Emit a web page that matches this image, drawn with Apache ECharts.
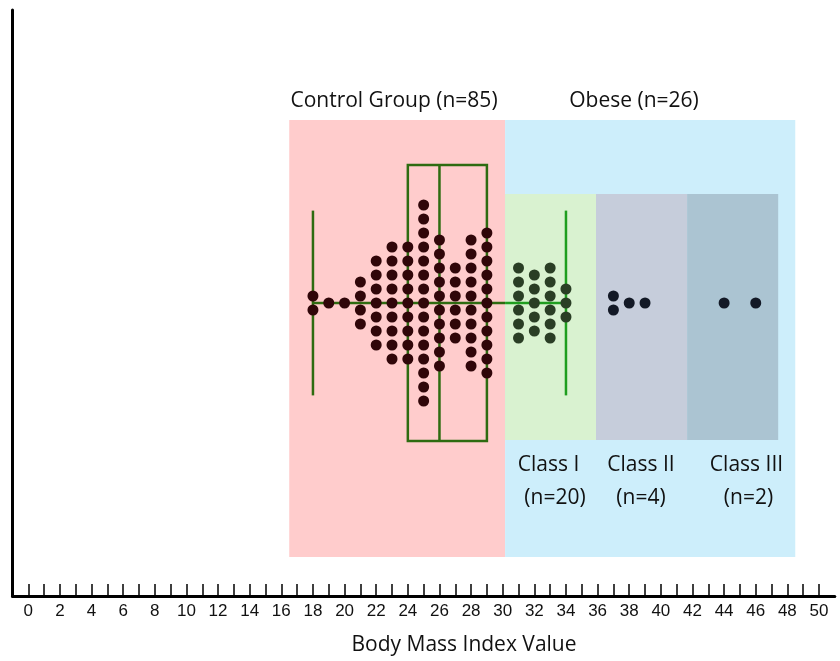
<!DOCTYPE html>
<html><head><meta charset="utf-8">
<script src="https://cdn.jsdelivr.net/npm/echarts@6/dist/echarts.min.js"></script>
<style>html,body{margin:0;padding:0;background:#fff}#c{width:840px;height:661px}</style>
</head><body><div id="c"></div>
<script>
// ---- data ----
const controlBMI    = [18,19,20,21,22,23,24,25,26,27,28,29];
const controlCounts = [2,1,1,4,7,9,9,15,10,6,10,11];
const class1BMI     = [31,32,33,34];
const class1Counts  = [6,5,6,3];
const class2BMI     = [37,38,39];
const class2Counts  = [2,1,1];
const class3BMI     = [44,46];
const class3Counts  = [1,1];
const boxStats      = [18,24,26,29,34];           // min, Q1, median, Q3, max
const groupRanges   = [[16.5,30.15],[30.15,48.5]]; // Control, Obese
const classRanges   = [[30.15,35.9],[35.9,41.66],[41.66,47.42]]; // Class I, II, III
const tickValues    = [0,1,2,3,4,5,6,7,8,9,10,11,12,13,14,15,16,17,18,19,20,21,22,23,24,25,26,27,28,29,30,31,32,33,34,35,36,37,38,39,40,41,42,43,44,45,46,47,48,49,50];
const labelValues   = [0,2,4,6,8,10,12,14,16,18,20,22,24,26,28,30,32,34,36,38,40,42,44,46,48,50];

// ---- layout ----
const Y_HALF = 20.93;          // y axis in "dot rows", 0 = centre line
const GROUP_Y = [-18.14, 13.07];
const CLASS_Y = [-9.79, 7.79];
const BOX_H = 9.86, WHISK_H = 6.6;

function swarm(bmis, counts){
  const out = [];
  bmis.forEach((b,k)=>{ const n = counts[k]; for(let i=0;i<n;i++) out.push([b, (n-1)/2 - i]); });
  return out;
}

const bgColors = ['#ffcccc','#cdeefb','#d9f2d0','#c6cddb','#abc4d2'];
const bgData = [
  [groupRanges[0][0], groupRanges[0][1], GROUP_Y[0], GROUP_Y[1]],
  [groupRanges[1][0], groupRanges[1][1], GROUP_Y[0], GROUP_Y[1]],
  [classRanges[0][0], classRanges[0][1], CLASS_Y[0], CLASS_Y[1]],
  [classRanges[1][0], classRanges[1][1], CLASS_Y[0], CLASS_Y[1]],
  [classRanges[2][0], classRanges[2][1], CLASS_Y[0], CLASS_Y[1]]
];

const chart = echarts.init(document.getElementById('c'), null, {renderer:'canvas'});
const dark = '#2e6b10', bright = '#1f9e1f';
const textFont = '"Open Sans", sans-serif';

function line(a, b, color){
  return {type:'line', shape:{x1:a[0], y1:a[1], x2:b[0], y2:b[1]}, style:{stroke:color, lineWidth:2.5}};
}
function label(text, x, y){
  return {type:'text', z:100, style:{text, x, y, align:'center', verticalAlign:'middle', font:'21px '+textFont, fill:'#111'}};
}

chart.setOption({
  animation:false,
  grid:{left:12.5, right:5.2, top:10, bottom:65, containLabel:false},
  xAxis:{type:'value', min:-1, max:51,
    axisLine:{show:true, onZero:false, lineStyle:{color:'#000', width:3}},
    axisTick:{show:true, inside:true, length:12, customValues:tickValues, lineStyle:{color:'#000', width:1.5}},
    axisLabel:{customValues:labelValues, color:'#111', fontFamily:'"Liberation Sans", Arial', fontSize:17, margin:7},
    splitLine:{show:false}},
  yAxis:{type:'value', min:-Y_HALF, max:Y_HALF,
    axisLine:{show:true, onZero:false, lineStyle:{color:'#000', width:3}},
    axisTick:{show:false}, axisLabel:{show:false}, splitLine:{show:false}},
  series:[
    {type:'custom', silent:true, z:1, data:bgData, encode:{x:[0,1], y:[2,3]},
     renderItem(params, api){
       const p0 = api.coord([api.value(0), api.value(3)]);
       const p1 = api.coord([api.value(1), api.value(2)]);
       return {type:'rect', shape:{x:p0[0], y:p0[1], width:p1[0]-p0[0], height:p1[1]-p0[1]},
               style:{fill:bgColors[params.dataIndex]}};
     }},
    {type:'custom', silent:true, z:2, data:[boxStats], encode:{x:[0,1,2,3,4]},
     renderItem(params, api){
       const mn=api.value(0), q1=api.value(1), md=api.value(2), q3=api.value(3), mx=api.value(4);
       const split = groupRanges[0][1];
       const c = (x,y)=>api.coord([x,y]);
       return {type:'group', children:[
         line(c(mn,0), c(q1,0), dark),
         line(c(q1,0), c(q3,0), dark),
         line(c(q3,0), c(split,0), dark),
         line(c(split,0), c(mx,0), bright),
         line(c(mn,-WHISK_H), c(mn,WHISK_H), dark),
         line(c(mx,-WHISK_H), c(mx,WHISK_H), bright),
         line(c(md,-BOX_H), c(md,BOX_H), dark),
         {type:'rect', shape:(()=>{const a=c(q1,BOX_H), b=c(q3,-BOX_H); return {x:a[0], y:a[1], width:b[0]-a[0], height:b[1]-a[1]};})(),
          style:{fill:null, stroke:dark, lineWidth:2.5}}
       ]};
     }},
    {type:'scatter', z:3, symbol:'circle', symbolSize:11, data:swarm(controlBMI, controlCounts), itemStyle:{color:'#300609', opacity:1}},
    {type:'scatter', z:3, symbol:'circle', symbolSize:11, data:swarm(class1BMI, class1Counts), itemStyle:{color:'#2a3e25', opacity:1}},
    {type:'scatter', z:3, symbol:'circle', symbolSize:11, data:swarm(class2BMI, class2Counts), itemStyle:{color:'#131926', opacity:1}},
    {type:'scatter', z:3, symbol:'circle', symbolSize:11, data:swarm(class3BMI, class3Counts), itemStyle:{color:'#131926', opacity:1}}
  ],
  graphic:[
    label('Control Group (n=85)', 394, 101),
    label('Obese (n=26)', 634, 101),
    label('Class I', 548.5, 465),
    label('(n=20)', 555, 498),
    label('Class II', 641, 465),
    label('(n=4)', 641, 498),
    label('Class III', 746.5, 465),
    label('(n=2)', 748.5, 498),
    label('Body Mass Index Value', 464, 645)
  ]
});
</script>
</body></html>
